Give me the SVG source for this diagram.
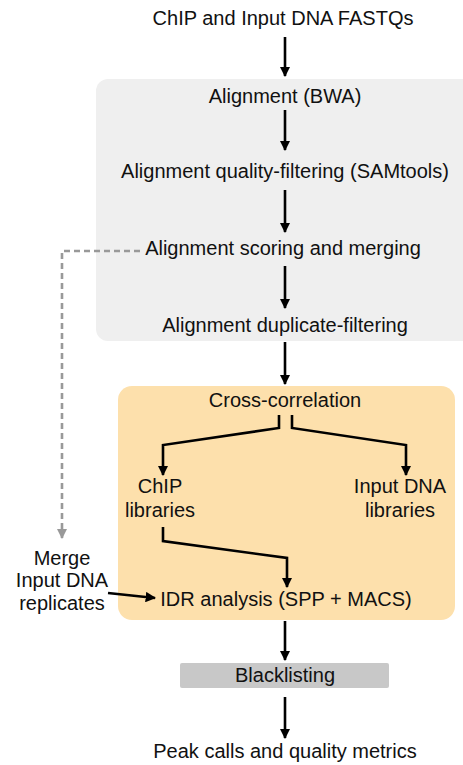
<svg xmlns="http://www.w3.org/2000/svg" width="463" height="765" viewBox="0 0 463 765">
<style>
text{font-family:"Liberation Sans",Arial,sans-serif;font-size:20px;fill:#111;text-anchor:middle}
.c{fill:none;stroke:#000;stroke-width:2.6}
.d{fill:none;stroke:#999;stroke-width:2.6;stroke-dasharray:6 4}
</style>
<defs>
<marker id="ah" viewBox="0 0 10 10" refX="9" refY="5" markerWidth="4" markerHeight="4" orient="auto" markerUnits="strokeWidth"><path d="M0,0 L10,5 L0,10 z" fill="#000"/></marker>
<marker id="ag" viewBox="0 0 10 10" refX="9" refY="5" markerWidth="4" markerHeight="4" orient="auto" markerUnits="strokeWidth"><path d="M0,0 L10,5 L0,10 z" fill="#999"/></marker>
</defs>
<g id="panels">
<rect x="96" y="79" width="380" height="262" rx="12" fill="#efefef"/>
<rect x="118" y="386" width="337" height="234" rx="14" fill="#fde0ac"/>
</g>
<g id="connectors">
<path class="c" d="M285,37 V76" marker-end="url(#ah)"/>
<path class="c" d="M285,110 V150" marker-end="url(#ah)"/>
<path class="c" d="M285,190 V232" marker-end="url(#ah)"/>
<path class="c" d="M285,266 V308" marker-end="url(#ah)"/>
<path class="c" d="M285,342 V384" marker-end="url(#ah)"/>
<path class="c" d="M279,415 V428 L163,445 V475" marker-end="url(#ah)"/>
<path class="c" d="M292,415 V428 L406,445 V475" marker-end="url(#ah)"/>
<path class="c" d="M163,527 V541 L287,558 V587" marker-end="url(#ah)"/>
<path class="c" d="M108,593 L155,598" marker-end="url(#ah)"/>
<path class="c" d="M285,621 V660" marker-end="url(#ah)"/>
<path class="c" d="M285,697 V738" marker-end="url(#ah)"/>
<path class="d" d="M140,251 H62 V538" marker-end="url(#ag)"/>
</g>
<g id="n-fastq"><text x="283" y="25">ChIP and Input DNA FASTQs</text></g>
<g id="n-bwa"><text x="285" y="103">Alignment (BWA)</text></g>
<g id="n-qf"><text x="285" y="178">Alignment quality-filtering (SAMtools)</text></g>
<g id="n-score"><text x="283" y="255">Alignment scoring and merging</text></g>
<g id="n-dup"><text x="285" y="332">Alignment duplicate-filtering</text></g>
<g id="n-xcor"><text x="285" y="407">Cross-correlation</text></g>
<g id="n-chip"><text x="160" y="493">ChIP</text><text x="160" y="517">libraries</text></g>
<g id="n-input"><text x="400" y="493">Input DNA</text><text x="400" y="517">libraries</text></g>
<g id="n-merge"><text x="62" y="565">Merge</text><text x="62" y="587">Input DNA</text><text x="62" y="610">replicates</text></g>
<g id="n-idr"><text x="286" y="606">IDR analysis (SPP + MACS)</text></g>
<g id="n-black"><rect x="180" y="663" width="209" height="25" rx="2" fill="#c8c8c8"/><text x="285" y="682">Blacklisting</text></g>
<g id="n-peak"><text x="285" y="758">Peak calls and quality metrics</text></g>
</svg>
